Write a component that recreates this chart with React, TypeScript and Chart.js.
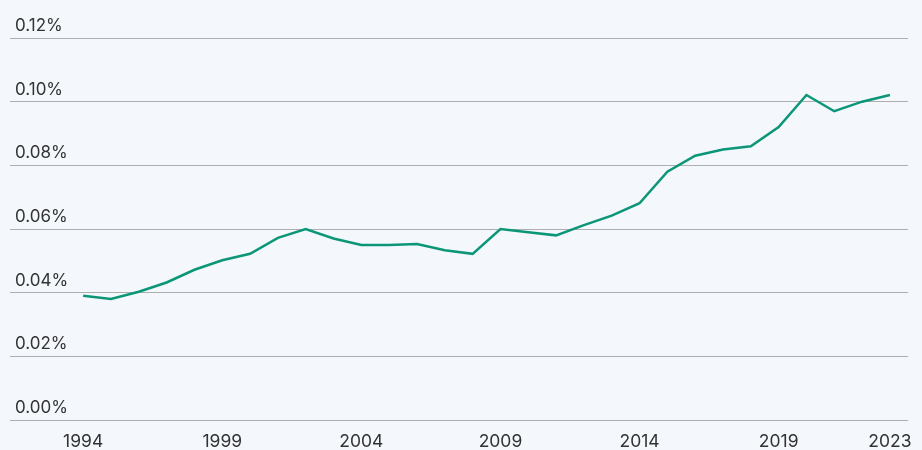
import { useEffect, useRef } from "react";
import { Chart, registerables } from "chart.js";

Chart.register(...registerables);

const years = [
  1994, 1995, 1996, 1997, 1998, 1999, 2000, 2001, 2002, 2003, 2004, 2005, 2006, 2007, 2008,
  2009, 2010, 2011, 2012, 2013, 2014, 2015, 2016, 2017, 2018, 2019, 2020, 2021, 2022, 2023,
];

// values in percent
const rates = [
  0.039, 0.038, 0.0403, 0.0432, 0.0472, 0.0502, 0.0522, 0.0572, 0.06, 0.057, 0.055, 0.055,
  0.0553, 0.0533, 0.0522, 0.06, 0.059, 0.058, 0.0612, 0.0642, 0.0681, 0.078, 0.083, 0.085,
  0.086, 0.092, 0.1021, 0.097, 0.1, 0.1021,
];

const xTickYears = [1994, 1999, 2004, 2009, 2014, 2019, 2023];

const FONT = "Inter, 'Noto Sans', sans-serif";

export default function App() {
  const canvasRef = useRef<HTMLCanvasElement>(null);

  useEffect(() => {
    document.body.style.margin = "0";
    document.body.style.background = "#f4f8fc";
    if (!canvasRef.current) return;

    const chart = new Chart(canvasRef.current, {
      type: "line",
      data: {
        datasets: [
          {
            data: years.map((y, i) => ({ x: y, y: rates[i] })),
            borderColor: "#0b9677",
            borderWidth: 2.5,
            pointRadius: 0,
            tension: 0,
          },
        ],
      },
      options: {
        animation: false,
        responsive: true,
        maintainAspectRatio: false,
        layout: { padding: { top: 38, right: 14, left: 0, bottom: -5 } },
        plugins: { legend: { display: false }, tooltip: { enabled: false } },
        scales: {
          x: {
            type: "linear",
            min: 1991.37,
            max: 2023.65,
            grid: { display: false },
            border: { display: false },
            afterBuildTicks: (axis) => {
              axis.ticks = xTickYears.map((v) => ({ value: v }));
            },
            ticks: {
              color: "#333333",
              font: { family: FONT, size: 17.5 },
              padding: 3,
              maxRotation: 0,
              autoSkip: false,
              callback: (v) => String(v),
            },
          },
          y: {
            min: 0,
            max: 0.12,
            border: { display: false },
            grid: { color: "#aeaeae", lineWidth: 1, drawTicks: false },
            ticks: {
              stepSize: 0.02,
              mirror: true,
              padding: 5,
              labelOffset: -12,
              color: "#333333",
              font: { family: FONT, size: 17 },
              callback: (v) => Number(v).toFixed(2) + "%",
            },
          },
        },
      },
    });

    return () => chart.destroy();
  }, []);

  return (
    <div style={{ width: 922, height: 450, background: "#f4f8fc", position: "relative" }}>
      <canvas ref={canvasRef}></canvas>
    </div>
  );
}
